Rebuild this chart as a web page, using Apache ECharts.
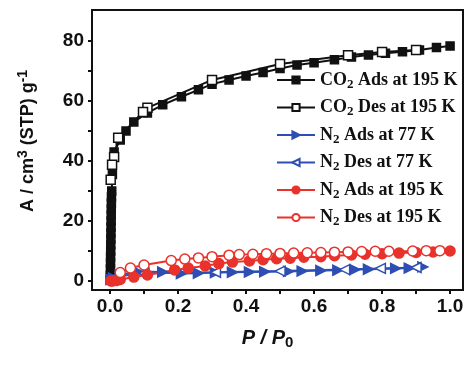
<!DOCTYPE html>
<html>
<head>
<meta charset="utf-8">
<script src="https://cdn.jsdelivr.net/npm/echarts@6/dist/echarts.min.js"></script>
<style>html,body{margin:0;padding:0;background:#fff;}#c{width:469px;height:368px;}</style>
</head>
<body>
<div id="c"></div>
<script>
const xMajorTicks = [0, 0.2, 0.4, 0.6, 0.8, 1.0];
const xAllTicks = [0, 0.1, 0.2, 0.3, 0.4, 0.5, 0.6, 0.7, 0.8, 0.9, 1.0];
const yMajorTicks = [0, 20, 40, 60, 80];
const yAllTicks = [0, 10, 20, 30, 40, 50, 60, 70, 80];

const seriesNames = ['CO2 Ads at 195 K', 'CO2 Des at 195 K', 'N2 Ads at 77 K', 'N2 Des at 77 K', 'N2 Ads at 195 K', 'N2 Des at 195 K'];
const legendLabels = [
  '{a|CO}{s|2}{a| Ads at 195 K}',
  '{a|CO}{s|2}{a| Des at 195 K}',
  '{a|N}{s|2}{a| Ads at 77 K}',
  '{a|N}{s|2}{a| Des at 77 K}',
  '{a|N}{s|2}{a| Ads at 195 K}',
  '{a|N}{s|2}{a| Des at 195 K}'
];

const co2Ads = [[0.0005,0.3],[0.001,2],[0.0012,4],[0.0015,6],[0.0017,8],[0.002,10],[0.0022,12],[0.0025,14],[0.0027,16],[0.003,18],[0.0032,20],[0.0035,22],[0.0037,24],[0.004,26],[0.0042,28],[0.005,30],[0.007,35.5],[0.012,43],[0.03,47],[0.047,50],[0.07,53],[0.11,56],[0.155,58.7],[0.21,61.4],[0.26,63.7],[0.3,65.6],[0.35,67],[0.4,68.3],[0.45,69.5],[0.5,70.8],[0.55,72],[0.6,72.7],[0.66,73.7],[0.71,74.6],[0.76,75.3],[0.81,75.9],[0.86,76.4],[0.91,77],[0.96,77.8],[1.0,78.3]];
const co2Des = [[0.9,77],[0.8,76.3],[0.7,75.2],[0.5,72.3],[0.3,67],[0.11,57.7],[0.097,56.3],[0.024,47.7],[0.012,41.3],[0.006,38.7],[0.002,33.7]];
const n2Ads77 = [[0.003,0.5],[0.01,1],[0.03,2],[0.08,3.2],[0.155,3],[0.21,2.5],[0.26,2.6],[0.31,2.8],[0.36,2.9],[0.41,3],[0.455,3.1],[0.525,3.2],[0.565,3.3],[0.62,3.5],[0.67,3.6],[0.72,3.8],[0.76,3.9],[0.84,4.2],[0.88,4.3],[0.92,4.7]];
const n2Des77 = [[0.9,4.5],[0.795,4.2],[0.69,3.8],[0.5,3.3],[0.31,2.9],[0.1,2.6],[0.02,1.5]];
const n2Ads195 = [[0.002,0],[0.006,0],[0.01,0.1],[0.02,0.2],[0.03,0.5],[0.07,1.3],[0.11,2],[0.19,3.7],[0.23,4.3],[0.28,5],[0.32,5.8],[0.36,6.3],[0.41,6.7],[0.45,7.1],[0.49,7.4],[0.53,7.6],[0.57,7.9],[0.62,8.1],[0.66,8.4],[0.71,8.7],[0.75,8.9],[0.8,9.1],[0.85,9.3],[0.9,9.5],[0.95,9.7],[1.0,10]];
const n2Des195 = [[0.97,10.1],[0.93,10.1],[0.89,10],[0.82,9.9],[0.78,9.9],[0.74,9.8],[0.7,9.7],[0.66,9.6],[0.62,9.5],[0.58,9.4],[0.54,9.3],[0.5,9.2],[0.46,9.1],[0.42,8.9],[0.38,8.8],[0.35,8.6],[0.3,8.1],[0.26,7.7],[0.22,7.3],[0.18,6.8],[0.1,5.3],[0.06,4.3],[0.03,2.8]];

const BLACK = '#111111', BLUE = '#2f4eb3', RED = '#e8322b';
const chart = echarts.init(document.getElementById('c'));

const labelFont = {fontFamily: 'Liberation Sans, Arial', fontWeight: 'bold', fontSize: 19, color: '#111'};

function mk(name, data, color, symbol, filled, size, rotate) {
  return {
    name: name, type: 'line', data: data,
    symbol: symbol, symbolSize: size, symbolRotate: rotate || 0, showAllSymbol: true,
    lineStyle: {color: color, width: 2},
    itemStyle: {color: filled ? color : '#ffffff', borderColor: color, borderWidth: 1.5},
    z: 2
  };
}

const option = {
  animation: false,
  grid: {left: 92, top: 10, right: 6, bottom: 78, show: true, borderColor: '#111', borderWidth: 2},
  legend: {
    orient: 'vertical', left: 271, top: 66, itemWidth: 38, itemHeight: 9, itemGap: 7.5,
    data: seriesNames,
    formatter: function (n) { return legendLabels[seriesNames.indexOf(n)]; },
    textStyle: {
      fontFamily: 'Liberation Serif, Times New Roman', fontWeight: 'bold', fontSize: 18, color: '#111',
      rich: {
        a: {fontFamily: 'Liberation Serif, Times New Roman', fontWeight: 'bold', fontSize: 18, color: '#111', lineHeight: 22},
        s: {fontFamily: 'Liberation Serif, Times New Roman', fontWeight: 'bold', fontSize: 13, color: '#111', lineHeight: 10, verticalAlign: 'bottom'}
      }
    }
  },
  xAxis: {
    type: 'value', min: -0.053, max: 1.038,
    name: '{i|P / P}{s|0}', nameLocation: 'middle', nameGap: 36,
    nameTextStyle: {padding: [0, 20, 0, 0], rich: {
      i: {fontFamily: 'Liberation Sans, Arial', fontWeight: 'bold', fontStyle: 'italic', fontSize: 20, color: '#111', lineHeight: 24},
      s: {fontFamily: 'Liberation Sans, Arial', fontWeight: 'bold', fontSize: 15, color: '#111', lineHeight: 10, verticalAlign: 'bottom'}
    }},
    axisLine: {show: true, onZero: false, lineStyle: {color: '#111', width: 2}},
    axisTick: {show: true, inside: false, length: 4, lineStyle: {color: '#111', width: 2}, customValues: xAllTicks},
    axisLabel: Object.assign({margin: 7, customValues: xMajorTicks, formatter: v => v.toFixed(1)}, labelFont),
    splitLine: {show: false}
  },
  yAxis: {
    type: 'value', min: -3, max: 90.3,
    name: '{t|A / cm}{p|3}{t| (STP) g}{p|-1}', nameLocation: 'middle', nameGap: 52,
    nameTextStyle: {padding: [0, 0, 0, 18], rich: {
      t: {fontFamily: 'Liberation Sans, Arial', fontWeight: 'bold', fontSize: 18, color: '#111', lineHeight: 24},
      p: {fontFamily: 'Liberation Sans, Arial', fontWeight: 'bold', fontSize: 14, color: '#111', lineHeight: 10, verticalAlign: 'top'}
    }},
    axisLine: {show: true, onZero: false, lineStyle: {color: '#111', width: 2}},
    axisTick: {show: true, inside: false, length: 4, lineStyle: {color: '#111', width: 2}, customValues: yAllTicks},
    axisLabel: Object.assign({margin: 8, customValues: yMajorTicks}, labelFont),
    splitLine: {show: false}
  },
  series: [
    mk(seriesNames[0], co2Ads, BLACK, 'rect', true, 8),
    mk(seriesNames[1], co2Des, BLACK, 'rect', false, 9),
    mk(seriesNames[2], n2Ads77, BLUE, 'triangle', true, 10, -90),
    mk(seriesNames[3], n2Des77, BLUE, 'triangle', false, 10, 90),
    mk(seriesNames[4], n2Ads195, RED, 'circle', true, 10),
    mk(seriesNames[5], n2Des195, RED, 'circle', false, 10)
  ]
};
chart.setOption(option);
</script>
</body>
</html>
